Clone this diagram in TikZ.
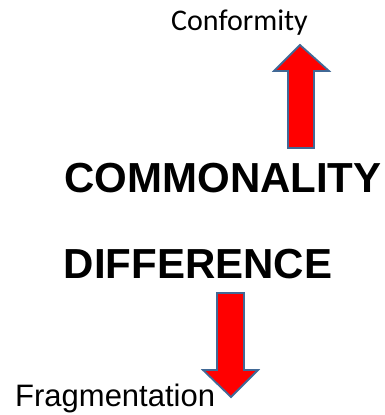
\documentclass[tikz,border=0pt]{standalone}
\usepackage{fontspec}
\setmainfont{Liberation Sans}
\newfontfamily\calib{Carlito}
\definecolor{rim}{RGB}{65,105,150}

\tikzstyle{blockarrow}=[fill=red,draw=rim,line width=1.8pt,line join=miter]
\tikzstyle{word}=[inner sep=0pt,font=\fontsize{31}{31}\selectfont]
\tikzstyle{big}=[inner sep=0pt,font=\fontsize{42}{42}\selectfont\bfseries]

\begin{document}
\begin{tikzpicture}[x=1pt,y=-1pt]
  \useasboundingbox (0,0) rectangle (385,415);

  \node[word,anchor=base east,font=\fontsize{30}{30}\selectfont\calib] (conf) at (308,30) {Conformity};
  \draw[blockarrow] (300,45) -- (329,71) -- (314,71) -- (314,148)
    -- (288,148) -- (288,71) -- (274,71) -- cycle;

  \node[big,anchor=base] (common) at (223,192) {COMMONALITY};

  \node[big,anchor=base] (diff) at (198,278) {DIFFERENCE};

  \draw[blockarrow] (217,293) -- (244,293) -- (244,370) -- (258,370)
    -- (231,397) -- (203,370) -- (217,370) -- cycle;
  \node[word,anchor=base west] (frag) at (15,406) {Fragmentation};
\end{tikzpicture}
\end{document}
